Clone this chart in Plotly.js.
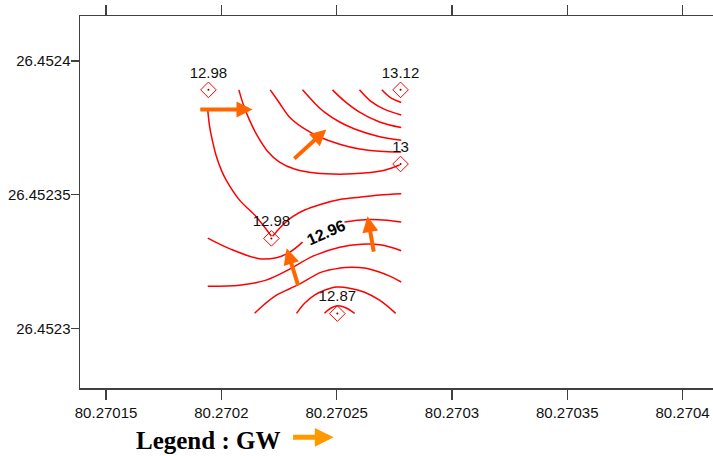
<!DOCTYPE html>
<html>
<head>
<meta charset="utf-8">
<script src="https://cdn.plot.ly/plotly-3.0.1.min.js"></script>
<style>html,body{margin:0;padding:0;background:#fff;}#chart{width:713px;height:456px;}</style>
</head>
<body>
<div id="chart"></div>
<script>
// ---- Data ----
// Tick values and labels
const xTickVals = [80.27015, 80.2702, 80.27025, 80.2703, 80.27035, 80.2704];
const xTickText = ["80.27015", "80.2702", "80.27025", "80.2703", "80.27035", "80.2704"];
const yTickVals = [26.4523, 26.45235, 26.4524];
const yTickText = ["26.4523", "26.45235", "26.4524"];

// Wells (longitude, latitude, GW level)
const wellX = [80.2701944, 80.2702777, 80.2702777, 80.2702217, 80.2702503];
const wellY = [26.4523892, 26.4523892, 26.4523615, 26.4523337, 26.4523056];
const wellLabel = ["12.98", "13.12", "13", "12.98", "12.87"];

const c0X = [80.2701941, 80.2701948, 80.2701956, 80.2701977, 80.2702000, 80.2702021, 80.2702079, 80.2702151, 80.2702217];
const c0Y = [26.4523817, 26.4523761, 26.4523723, 26.4523648, 26.4523592, 26.4523555, 26.4523480, 26.4523418, 26.4523345];
const c1X = [80.2702696, 80.2702730, 80.2702780];
const c1Y = [26.4523892, 26.4523865, 26.4523845];
const c2X = [80.2702599, 80.2702647, 80.2702708, 80.2702780];
const c2Y = [26.4523892, 26.4523850, 26.4523819, 26.4523798];
const c3X = [80.2702482, 80.2702534, 80.2702599, 80.2702686, 80.2702780];
const c3Y = [26.4523892, 26.4523850, 26.4523809, 26.4523772, 26.4523751];
const c4X = [80.2702352, 80.2702404, 80.2702447, 80.2702513, 80.2702578, 80.2702678, 80.2702780];
const c4Y = [26.4523892, 26.4523843, 26.4523809, 26.4523772, 26.4523746, 26.4523719, 26.4523704];
const c5X = [80.2702212, 80.2702252, 80.2702296, 80.2702361, 80.2702426, 80.2702513, 80.2702599, 80.2702686, 80.2702780];
const c5Y = [26.4523892, 26.4523843, 26.4523790, 26.4523746, 26.4523716, 26.4523689, 26.4523671, 26.4523663, 26.4523660];
const c6X = [80.2702076, 80.2702096, 80.2702122, 80.2702157, 80.2702200, 80.2702252, 80.2702317, 80.2702408, 80.2702513, 80.2702621, 80.2702708, 80.2702773];
const c6Y = [26.4523892, 26.4523835, 26.4523779, 26.4523719, 26.4523663, 26.4523622, 26.4523596, 26.4523581, 26.4523577, 26.4523581, 26.4523592, 26.4523611];
const d1X = [80.2702222, 80.2702265, 80.2702309, 80.2702361, 80.2702426, 80.2702513, 80.2702599, 80.2702686, 80.2702780];
const d1Y = [26.4523345, 26.4523386, 26.4523418, 26.4523443, 26.4523463, 26.4523482, 26.4523491, 26.4523499, 26.4523504];
const d2aX = [80.2701941, 80.2702035, 80.2702165, 80.2702239, 80.2702296, 80.2702352];
const d2aY = [26.4523338, 26.4523299, 26.4523261, 26.4523265, 26.4523285, 26.4523323];
const d2bX = [80.2702534, 80.2702591, 80.2702651, 80.2702717, 80.2702780];
const d2bY = [26.4523398, 26.4523405, 26.4523408, 26.4523405, 26.4523398];
const d3X = [80.2701941, 80.2702079, 80.2702194, 80.2702296, 80.2702395, 80.2702513, 80.2702608, 80.2702695, 80.2702780];
const d3Y = [26.4523158, 26.4523162, 26.4523181, 26.4523222, 26.4523270, 26.4523304, 26.4523315, 26.4523312, 26.4523291];
const d4X = [80.2702144, 80.2702187, 80.2702239, 80.2702296, 80.2702339, 80.2702434, 80.2702513, 80.2702565, 80.2702621, 80.2702678, 80.2702730, 80.2702780];
const d4Y = [26.4523057, 26.4523091, 26.4523125, 26.4523149, 26.4523166, 26.4523211, 26.4523226, 26.4523229, 26.4523226, 26.4523213, 26.4523196, 26.4523174];
const d5X = [80.2702326, 80.2702361, 80.2702404, 80.2702447, 80.2702500, 80.2702556, 80.2702621, 80.2702686, 80.2702756];
const d5Y = [26.4523057, 26.4523095, 26.4523125, 26.4523143, 26.4523155, 26.4523151, 26.4523136, 26.4523106, 26.4523057];
const d6X = [80.2702447, 80.2702474, 80.2702504, 80.2702539, 80.2702578];
const d6Y = [26.4523057, 26.4523076, 26.4523085, 26.4523078, 26.4523057];

// Contour label
const contourLabel = {text: "12.96", x: 80.2702454, y: 26.4523360};

// Groundwater flow arrows: tip and tail
const arrowTipX = [80.2702135, 80.2702455, 80.2702283, 80.2702634];
const arrowTipY = [26.4523819, 26.4523744, 26.4523300, 26.4523420];
const arrowTailX = [80.2701902, 80.2702310, 80.2702335, 80.2702662];
const arrowTailY = [26.4523819, 26.4523630, 26.4523156, 26.4523282];

// ---- Build the chart ----
const lineStyle = {color: "#ff0000", width: 1.5, shape: "spline", smoothing: 1};
const contours = [[c0X,c0Y],[c1X,c1Y],[c2X,c2Y],[c3X,c3Y],[c4X,c4Y],[c5X,c5Y],[c6X,c6Y],
                  [d1X,d1Y],[d2aX,d2aY],[d2bX,d2bY],[d3X,d3Y],[d4X,d4Y],[d5X,d5Y],[d6X,d6Y]];
const traces = contours.map(([x,y]) => ({
  type: "scatter", mode: "lines", x: x, y: y, line: lineStyle, hoverinfo: "skip", showlegend: false
}));
traces.push({
  type: "scatter", mode: "markers+text", x: wellX, y: wellY, text: wellLabel,
  textposition: "top center",
  textfont: {family: "Liberation Sans, Arial, sans-serif", size: 15, color: "#111"},
  marker: {symbol: "diamond-open", size: 12, color: "#ff0000", line: {width: 1, color: "#ff0000"}},
  showlegend: false
});
traces.push({
  type: "scatter", mode: "markers", x: wellX, y: wellY,
  marker: {symbol: "circle", size: 2, color: "#800000"}, showlegend: false, hoverinfo: "skip"
});

const annotations = arrowTipX.map((x, i) => ({
  x: x, y: arrowTipY[i], ax: arrowTailX[i], ay: arrowTailY[i],
  xref: "x", yref: "y", axref: "x", ayref: "y",
  text: "", showarrow: true, arrowhead: 2, arrowsize: 0.8, arrowwidth: 4,
  arrowcolor: "#ff6600", standoff: 0, startstandoff: 0
}));
annotations.push({
  x: contourLabel.x, y: contourLabel.y, xref: "x", yref: "y", text: contourLabel.text,
  showarrow: false, textangle: -24,
  font: {family: "Liberation Sans, Arial, sans-serif", size: 16, color: "#000", weight: "bold"}
});
annotations.push({
  x: 0.2021, y: -0.1407, xref: "paper", yref: "paper", xanchor: "center", yanchor: "middle",
  text: "<b>Legend : GW</b>", showarrow: false,
  font: {family: "Liberation Serif, Times New Roman, serif", size: 25, color: "#000"}
});
annotations.push({
  x: 0.4006, y: -0.1326, xref: "paper", yref: "paper", ax: -42, ay: 0,
  text: "", showarrow: true, arrowhead: 2, arrowsize: 0.75, arrowwidth: 5,
  arrowcolor: "#ff9900", standoff: 0
});

const axisCommon = {
  showgrid: false, zeroline: false, showline: true, linecolor: "#404040", linewidth: 1.5,
  ticks: "outside", tickcolor: "#404040", tickwidth: 1.2,
  tickfont: {family: "Liberation Sans, Arial, sans-serif", size: 15, color: "#111"}
};

const layout = {
  width: 713, height: 456,
  margin: {l: 80, r: 0, t: 16, b: 68},
  paper_bgcolor: "#fff", plot_bgcolor: "#fff",
  showlegend: false,
  xaxis: Object.assign({}, axisCommon, {
    range: [80.2701387, 80.2704132], tickmode: "array", tickvals: xTickVals, ticktext: xTickText,
    mirror: "ticks", ticklen: 10
  }),
  yaxis: Object.assign({}, axisCommon, {
    range: [26.4522778, 26.4524168], tickmode: "array", tickvals: yTickVals, ticktext: yTickText,
    mirror: false, ticklen: 8, ticklabelstandoff: -3
  }),
  annotations: annotations
};

Plotly.newPlot("chart", traces, layout, {staticPlot: true, displayModeBar: false});
</script>
</body>
</html>
